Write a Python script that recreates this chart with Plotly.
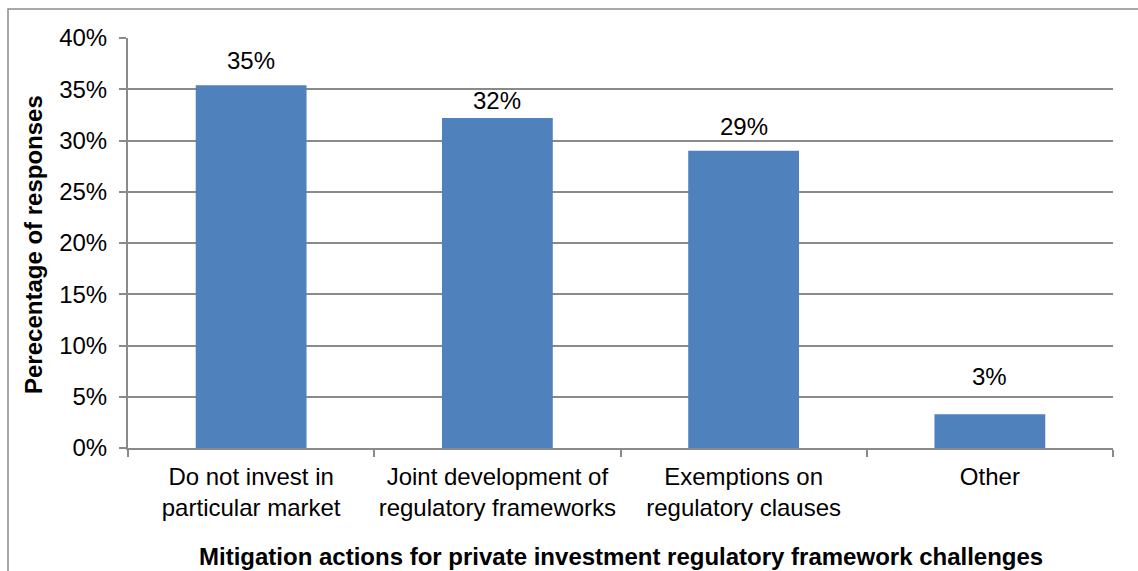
import plotly.graph_objects as go

# Survey results: mitigation actions for regulatory framework challenges
categories = [
    "Do not invest in<br>particular market",
    "Joint development of<br>regulatory frameworks",
    "Exemptions on<br>regulatory clauses",
    "Other",
]
shares = [0.354, 0.322, 0.290, 0.033]
y_ticks = [0, 0.05, 0.10, 0.15, 0.20, 0.25, 0.30, 0.35, 0.40]
y_title = "Perecentage of responses"
x_title = "Mitigation actions for private investment regulatory framework challenges"

# pixel lift of each value label above its bar
label_lift = [9, 2, 9, 22]

W, H = 1138, 571
L, R, T, B = 128, 25, 38, 123
pw, ph = W - L - R, H - T - B

FONT = "Liberation Sans, Arial, sans-serif"
GRID = "#8a8a8a"
SIZE = 24

fig = go.Figure(
    go.Bar(
        x=categories,
        y=shares,
        marker=dict(color="#4F81BD", line=dict(width=0)),
        width=0.45,
    )
)

# value labels sitting above each bar
value_labels = [
    dict(
        x=c, y=v, xref="x", yref="y",
        text=f"{v:.0%}",
        xanchor="center", yanchor="bottom",
        yshift=lift, showarrow=False,
        font=dict(family=FONT, size=SIZE, color="#000000"),
    )
    for c, v, lift in zip(categories, shares, label_lift)
]

fig.update_layout(
    width=W,
    height=H,
    margin=dict(l=L, r=R, t=T, b=B, pad=0, autoexpand=False),
    paper_bgcolor="white",
    plot_bgcolor="white",
    showlegend=False,
    font=dict(family=FONT, size=SIZE, color="#000000"),
    xaxis=dict(
        type="category",
        automargin=False,
        tickangle=0,
        showline=True,
        linecolor=GRID,
        linewidth=2,
        ticks="outside",
        tickson="boundaries",
        ticklen=7,
        tickcolor=GRID,
        tickwidth=2,
        showgrid=False,
        tickfont=dict(family=FONT, size=SIZE, color="#000000"),
        ticklabelstandoff=6,
    ),
    yaxis=dict(
        range=[0, 0.4],
        automargin=False,
        tickvals=y_ticks,
        tickformat=".0%",
        showline=True,
        linecolor=GRID,
        linewidth=2,
        ticks="outside",
        ticklen=7,
        tickcolor=GRID,
        tickwidth=2,
        showgrid=True,
        gridcolor=GRID,
        gridwidth=2,
        zeroline=False,
        tickfont=dict(family=FONT, size=SIZE, color="#000000"),
        ticklabelstandoff=7,
    ),
    annotations=value_labels + [
        dict(
            text=f"<b>{y_title}</b>",
            xref="paper", yref="paper",
            x=(33 - L) / pw, y=(T + ph - 245) / ph,
            xanchor="center", yanchor="middle",
            textangle=-90, showarrow=False,
            font=dict(family=FONT, size=SIZE, color="#000000"),
        ),
        dict(
            text=f"<b>{x_title}</b>",
            xref="paper", yref="paper",
            x=0.5, y=-(556 - (T + ph)) / ph,
            xanchor="center", yanchor="middle",
            showarrow=False,
            font=dict(family=FONT, size=SIZE, color="#000000"),
        ),
    ],
    shapes=[
        dict(
            type="rect",
            xref="paper", yref="paper",
            x0=(8 - L) / pw, x1=1.2,
            y0=-0.5, y1=(T + ph - 9) / ph,
            line=dict(color="#8c8c8c", width=1.5),
            fillcolor="rgba(0,0,0,0)",
            layer="below",
        )
    ],
)

fig.write_html("out.html")
